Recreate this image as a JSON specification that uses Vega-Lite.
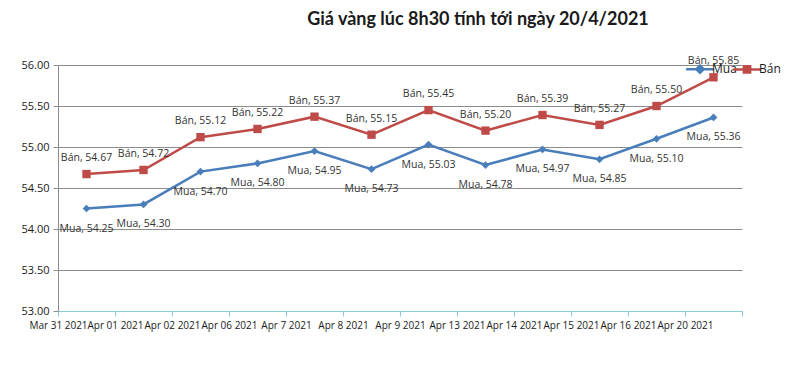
{
  "$schema": "https://vega.github.io/schema/vega-lite/v6.json",
  "width": 684,
  "height": 246,
  "autosize": {"type": "none"},
  "padding": {"left": 58, "top": 65, "right": 58, "bottom": 59},
  "background": "white",
  "title": {
    "text": "Giá vàng lúc 8h30 tính tới ngày 20/4/2021",
    "font": "Lato",
    "fontSize": 18,
    "fontWeight": "bold",
    "color": "#1a1a1a",
    "anchor": "middle",
    "dx": 78,
    "offset": 27
  },
  "data": {
    "values": [
      {"date": "Mar 31 2021", "series": "Mua", "value": 54.25},
      {"date": "Apr 01 2021", "series": "Mua", "value": 54.30},
      {"date": "Apr 02 2021", "series": "Mua", "value": 54.70},
      {"date": "Apr 06 2021", "series": "Mua", "value": 54.80},
      {"date": "Apr 7 2021", "series": "Mua", "value": 54.95},
      {"date": "Apr 8 2021", "series": "Mua", "value": 54.73},
      {"date": "Apr 9 2021", "series": "Mua", "value": 55.03},
      {"date": "Apr 13 2021", "series": "Mua", "value": 54.78},
      {"date": "Apr 14 2021", "series": "Mua", "value": 54.97},
      {"date": "Apr 15 2021", "series": "Mua", "value": 54.85},
      {"date": "Apr 16 2021", "series": "Mua", "value": 55.10},
      {"date": "Apr 20 2021", "series": "Mua", "value": 55.36},
      {"date": "Mar 31 2021", "series": "Bán", "value": 54.67},
      {"date": "Apr 01 2021", "series": "Bán", "value": 54.72},
      {"date": "Apr 02 2021", "series": "Bán", "value": 55.12},
      {"date": "Apr 06 2021", "series": "Bán", "value": 55.22},
      {"date": "Apr 7 2021", "series": "Bán", "value": 55.37},
      {"date": "Apr 8 2021", "series": "Bán", "value": 55.15},
      {"date": "Apr 9 2021", "series": "Bán", "value": 55.45},
      {"date": "Apr 13 2021", "series": "Bán", "value": 55.20},
      {"date": "Apr 14 2021", "series": "Bán", "value": 55.39},
      {"date": "Apr 15 2021", "series": "Bán", "value": 55.27},
      {"date": "Apr 16 2021", "series": "Bán", "value": 55.50},
      {"date": "Apr 20 2021", "series": "Bán", "value": 55.85}
    ]
  },
  "transform": [
    {"calculate": "datum.series + ', ' + format(datum.value, '.2f')", "as": "label"}
  ],
  "encoding": {
    "x": {
      "field": "date",
      "type": "nominal",
      "sort": null,
      "bandPosition": 0.5,
      "scale": {"type": "band", "paddingInner": 0, "paddingOuter": 0},
      "axis": {
        "title": null,
        "labelAngle": 0,
        "labelOffset": -28.5,
        "tickBand": "extent",
        "domainColor": "#8cccd3",
        "tickColor": "#8cccd3",
        "tickSize": 5,
        "labelPadding": 4,
        "labelFont": "Open Sans",
        "labelFontSize": 10,
        "labelColor": "#1a1a1a",
        "grid": false
      }
    },
    "y": {
      "field": "value",
      "type": "quantitative",
      "scale": {"domain": [53, 56], "zero": false, "nice": false},
      "axis": {
        "title": null,
        "values": [53, 53.5, 54, 54.5, 55, 55.5, 56],
        "format": ".2f",
        "domainColor": "#8c8c8c",
        "tickColor": "#8c8c8c",
        "tickSize": 5,
        "labelPadding": 4,
        "labelFont": "Open Sans",
        "labelFontSize": 11,
        "labelColor": "#1a1a1a",
        "gridColor": "#8c8c8c",
        "gridWidth": 1
      }
    }
  },
  "layer": [
    {
      "mark": {"type": "line", "strokeWidth": 2.5},
      "encoding": {
        "color": {
          "field": "series",
          "type": "nominal",
          "scale": {"domain": ["Mua", "Bán"], "range": ["#4a7ebb", "#be4b48"]},
          "legend": {
            "title": null,
            "orient": "none",
            "legendX": 632,
            "legendY": -6,
            "direction": "horizontal",
            "labelFont": "Open Sans",
            "labelFontSize": 12,
            "labelColor": "#1a1a1a",
            "symbolSize": 300,
            "symbolStrokeWidth": 2.5,
            "labelOffset": 2,
            "columnPadding": -14,
            "encode": {
              "symbols": {
                "update": {
                  "shape": {"signal": "datum.value == 'Mua' ? 'M-1.6,0H1.6M0,-0.42L0.42,0L0,0.42L-0.42,0Z' : 'M-1.6,0H1.6M-0.36,-0.36H0.36V0.36H-0.36Z'"},
                  "stroke": {"signal": "datum.value == 'Mua' ? '#4a7ebb' : '#be4b48'"},
                  "fill": {"signal": "datum.value == 'Mua' ? '#4a7ebb' : '#be4b48'"},
                  "strokeWidth": {"value": 2.5},
                  "opacity": {"value": 1}
                }
              }
            }
          }
        }
      }
    },
    {
      "transform": [{"filter": "datum.series == 'Mua'"}],
      "mark": {"type": "point", "shape": "diamond", "filled": true, "opacity": 1, "size": 60, "color": "#4a7ebb"}
    },
    {
      "transform": [{"filter": "datum.series == 'Bán'"}],
      "mark": {"type": "point", "shape": "square", "filled": true, "opacity": 1, "size": 70, "color": "#be4b48"}
    },
    {
      "transform": [{"filter": "datum.series == 'Mua'"}],
      "mark": {"type": "text", "dy": 20, "font": "Open Sans", "fontSize": 10.5, "color": "#333333"},
      "encoding": {"text": {"field": "label"}}
    },
    {
      "transform": [{"filter": "datum.series == 'Bán'"}],
      "mark": {"type": "text", "dy": -16, "font": "Open Sans", "fontSize": 10.5, "color": "#333333"},
      "encoding": {"text": {"field": "label"}}
    }
  ],
  "config": {
    "view": {"stroke": null}
  }
}
